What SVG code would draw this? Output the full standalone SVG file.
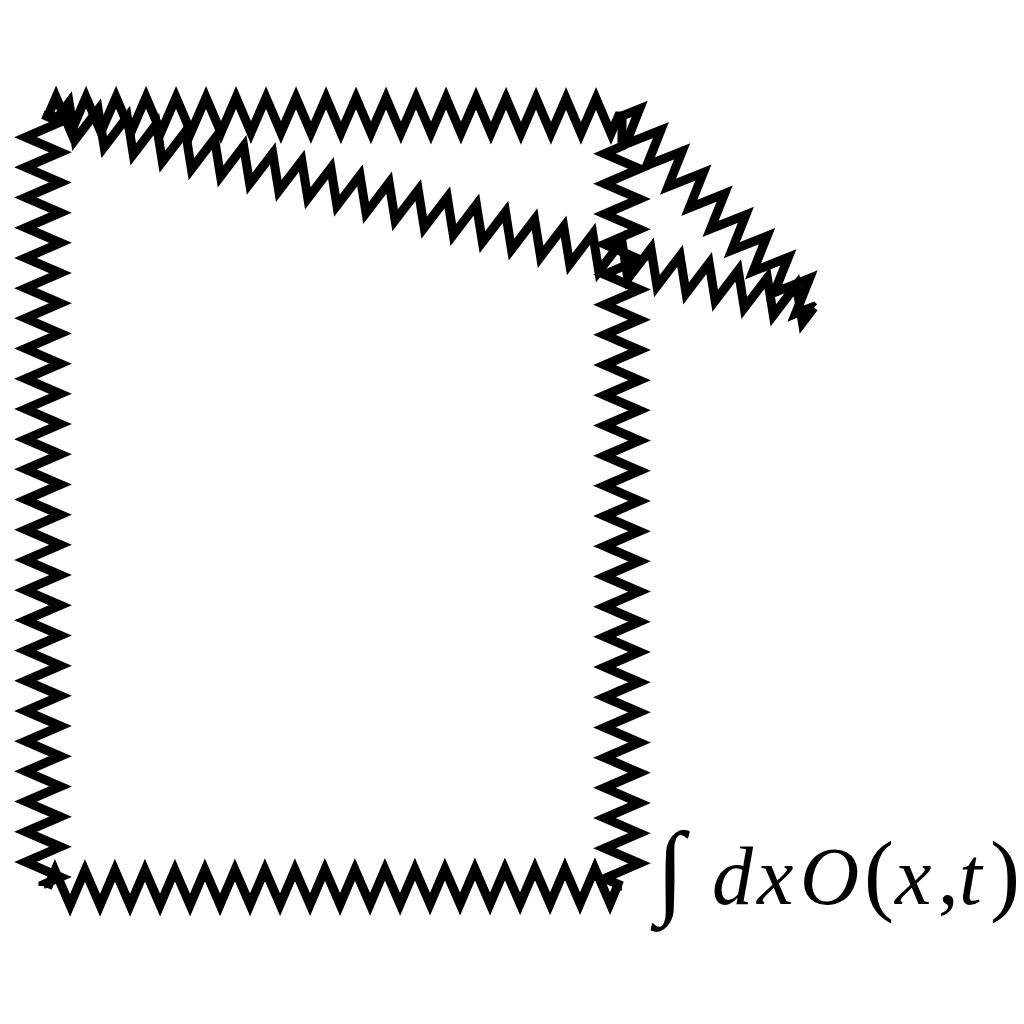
<svg xmlns="http://www.w3.org/2000/svg" width="1024" height="1024" viewBox="0 0 1024 1024">
<style>
.zz{fill:none;stroke:#000;stroke-width:9;stroke-linejoin:miter;stroke-miterlimit:10;stroke-linecap:butt}
.m{font-family:"Liberation Serif","Times New Roman",serif;font-size:82px;fill:#000}
.i{font-style:italic}
</style>
<rect width="1024" height="1024" fill="#fff"/>
<g id="connectors">
<path id="e-top" class="zz" transform="translate(48.5,114.5) rotate(0.15)" d="M0,0 l7.5,-17.5 l15,35 l15,-35 l15,35 l15,-35 l15,35 l15,-35 l15,35 l15,-35 l15,35 l15,-35 l15,35 l15,-35 l15,35 l15,-35 l15,35 l15,-35 l15,35 l15,-35 l15,35 l15,-35 l15,35 l15,-35 l15,35 l15,-35 l15,35 l15,-35 l15,35 l15,-35 l15,35 l15,-35 l15,35 l15,-35 l15,35 l15,-35 l15,35 l15,-35 l15,35 l7.5,-17.5 H573.5"/>
<path id="e-bottom" class="zz" transform="translate(47.5,888) rotate(-0.2)" d="M0,0 l7.5,-17.5 l15,35 l15,-35 l15,35 l15,-35 l15,35 l15,-35 l15,35 l15,-35 l15,35 l15,-35 l15,35 l15,-35 l15,35 l15,-35 l15,35 l15,-35 l15,35 l15,-35 l15,35 l15,-35 l15,35 l15,-35 l15,35 l15,-35 l15,35 l15,-35 l15,35 l15,-35 l15,35 l15,-35 l15,35 l15,-35 l15,35 l15,-35 l15,35 l15,-35 l15,35 l7.5,-17.5 H574.5"/>
<path id="e-left" class="zz" transform="translate(43,114.5) rotate(90)" d="M0,0 l7.55,-17.5 l15.1,35 l15.1,-35 l15.1,35 l15.1,-35 l15.1,35 l15.1,-35 l15.1,35 l15.1,-35 l15.1,35 l15.1,-35 l15.1,35 l15.1,-35 l15.1,35 l15.1,-35 l15.1,35 l15.1,-35 l15.1,35 l15.1,-35 l15.1,35 l15.1,-35 l15.1,35 l15.1,-35 l15.1,35 l15.1,-35 l15.1,35 l15.1,-35 l15.1,35 l15.1,-35 l15.1,35 l15.1,-35 l15.1,35 l15.1,-35 l15.1,35 l15.1,-35 l15.1,35 l15.1,-35 l15.1,35 l15.1,-35 l15.1,35 l15.1,-35 l15.1,35 l15.1,-35 l15.1,35 l15.1,-35 l15.1,35 l15.1,-35 l15.1,35 l15.1,-35 l15.1,35 l15.1,-35 l7.55,17.5 H771.5"/>
<path id="e-right" class="zz" transform="translate(622,886) rotate(-90)" d="M0,0 l7.55,-17.5 l15.1,35 l15.1,-35 l15.1,35 l15.1,-35 l15.1,35 l15.1,-35 l15.1,35 l15.1,-35 l15.1,35 l15.1,-35 l15.1,35 l15.1,-35 l15.1,35 l15.1,-35 l15.1,35 l15.1,-35 l15.1,35 l15.1,-35 l15.1,35 l15.1,-35 l15.1,35 l15.1,-35 l15.1,35 l15.1,-35 l15.1,35 l15.1,-35 l15.1,35 l15.1,-35 l15.1,35 l15.1,-35 l15.1,35 l15.1,-35 l15.1,35 l15.1,-35 l15.1,35 l15.1,-35 l15.1,35 l15.1,-35 l15.1,35 l15.1,-35 l15.1,35 l15.1,-35 l15.1,35 l15.1,-35 l15.1,35 l15.1,-35 l15.1,35 l15.1,-35 l7.55,17.5 H770"/>
<path id="e-diag-long" class="zz" transform="translate(814,307.5) rotate(194.107)" d="M0,0 l7.5,-17.5 l15,35 l15,-35 l15,35 l15,-35 l15,35 l15,-35 l15,35 l15,-35 l15,35 l15,-35 l15,35 l15,-35 l15,35 l15,-35 l15,35 l15,-35 l15,35 l15,-35 l15,35 l15,-35 l15,35 l15,-35 l15,35 l15,-35 l15,35 l15,-35 l15,35 l15,-35 l15,35 l15,-35 l15,35 l15,-35 l15,35 l15,-35 l15,35 l15,-35 l15,35 l15,-35 l15,35 l15,-35 l15,35 l15,-35 l15,35 l15,-35 l15,35 l15,-35 l15,35 l15,-35 l15,35 l15,-35 l15,35 l7.5,-17.5 H791.9"/>
<path id="e-diag-short" class="zz" transform="translate(622,116) rotate(44.93)" d="M0,0 l7.5,-17.5 l15,35 l15,-35 l15,35 l15,-35 l15,35 l15,-35 l15,35 l15,-35 l15,35 l15,-35 l15,35 l15,-35 l15,35 l15,-35 l15,35 l15,-35 l15,35 l7.5,-17.5 H271.2"/>
</g>
<g id="label">
<text class="m" y="904"><tspan x="656" font-size="104">∫</tspan><tspan class="i" x="712">d</tspan><tspan class="i" x="757">x</tspan><tspan class="i" x="800">O</tspan><tspan x="864" font-size="90">(</tspan><tspan class="i" x="895">x</tspan><tspan x="938">,</tspan><tspan class="i" x="959">t</tspan><tspan x="990" font-size="90">)</tspan></text>
</g>
</svg>
